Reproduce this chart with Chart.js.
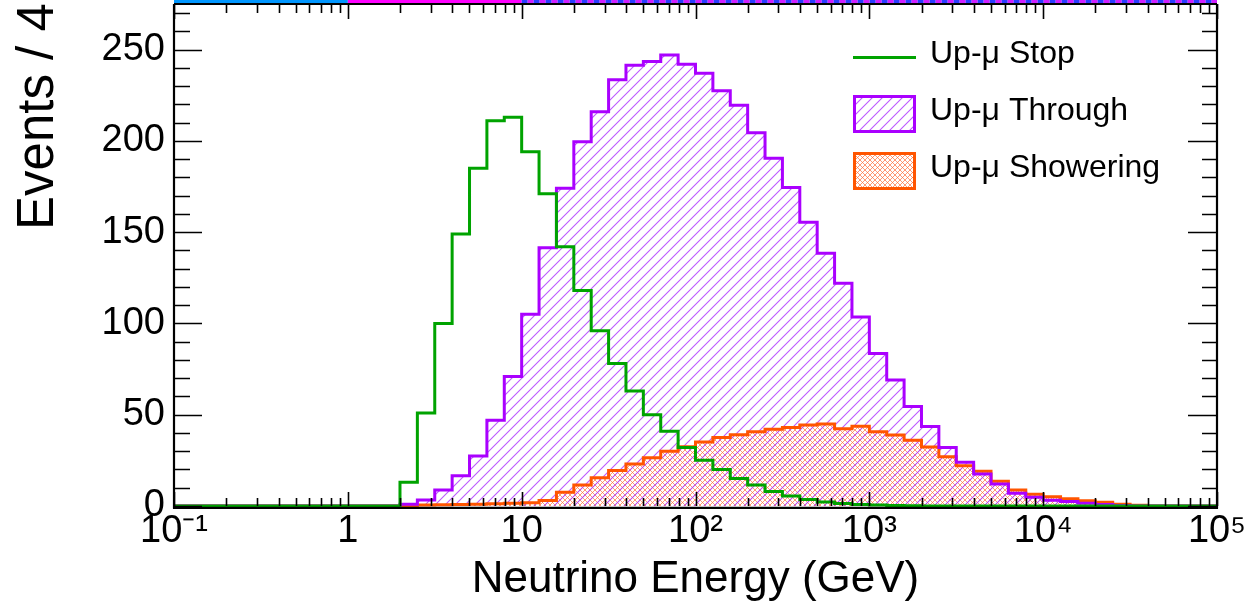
<!DOCTYPE html>
<html>
<head>
<meta charset="utf-8">
<script src="https://cdn.jsdelivr.net/npm/chart.js@4.4.1/dist/chart.umd.min.js"></script>
<style>
html,body{margin:0;padding:0;background:#fff;}
#wrap{width:1248px;height:608px;}
canvas{display:block;}
</style>
</head>
<body>
<div id="wrap"><canvas id="c" width="1248" height="608"></canvas></div>
<script>
// ---------------- data ----------------
const firstDecade = -1;          // histogram starts at 10^-1 GeV
const binsPerDecade = 10;
const nBins = 60;                // 10^-1 ... 10^5
const seriesNames = ['Up-\u03bc Stop', 'Up-\u03bc Through', 'Up-\u03bc Showering'];

const stopValues = [
  0,0,0,0,0,0,0,0,0,0,0,0,0,
  13,51,100,149,185,211,213,194,171,142,118,96,78,63,50,41,32,25,20,15,11.5,8,5.5,3.5,2.2,1.4,0.8,0.5,0.3,0.2,
  0,0,0,0,0,0,0,0,0,0,0,0,0,0,0,0,0
];
const throughValues = [
  0,0,0,0,0,0,0,0,0,0,0,0,0,
  1,3.3,8.8,16.6,27.4,47,71,105,141.5,174,199.5,216,233.5,241.5,243.5,247,242,237,227.5,219.5,204.5,190.5,174.5,155.5,138.5,122,103.5,83.5,69,54.5,43.5,32,24,17.5,12,7,4.8,3.2,2.5,1.5,0.8,0.3,
  0,0,0,0,0
];
const showerValues = [
  0,0,0,0,0,0,0,0,0,0,0,0,0,0,
  0.5,0.7,0.8,1,1.2,1.5,1.8,3,7.5,11.5,15.5,19.5,23,26.5,30,32.5,35,37.5,39,40.7,42,43,44.4,44.9,42.3,43.7,40.7,38.9,36,32.3,27,22,19,13.5,8.8,6.5,5,4,2.9,2,1,0.4,
  0,0,0,0
];

const xTickValues = [0.1, 1, 10, 100, 1000, 10000, 100000];
const xTickLabels = ['10\u207b\u00b9', '1', '10', '10\u00b2', '10\u00b3', '10\u2074', '10\u2075'];
const yMax = 275;
const yStep = 50;
const yMinorStep = 10;
const xTitle = 'Neutrino Energy (GeV)';
const yTitle = 'Events / 4';

// strip of the panel above (cut off in the picture)
const topStripSegments = [
  {from: 0.1, to: 1, colors: ['#0096ff']},
  {from: 1, to: 10, colors: ['#ff00ff']},
  {from: 10, to: 100000, colors: ['#2a3cff', '#d020ff']}
];

// ---------------- styling ----------------
const GREEN = '#00a300';
const PURPLE = '#aa00ff';
const ORANGE = '#ff5500';
const FONT = "'Liberation Sans', Arial, Helvetica, sans-serif";
Chart.defaults.font.family = FONT;
Chart.defaults.color = '#000';

const canvasEl = document.getElementById('c');
const mainCtx = canvasEl.getContext('2d');

function purplePattern() {
  const s = 10;
  const t = document.createElement('canvas');
  t.width = s; t.height = s;
  const g = t.getContext('2d');
  g.strokeStyle = 'rgba(176,60,255,0.85)';
  g.lineWidth = 1.1;
  g.beginPath();
  g.moveTo(-2, s + 2); g.lineTo(s + 2, -2);
  g.moveTo(-2, 2); g.lineTo(2, -2);
  g.moveTo(s - 2, s + 2); g.lineTo(s + 2, s - 2);
  g.stroke();
  return mainCtx.createPattern(t, 'repeat');
}
function orangePattern() {
  const s = 5;
  const t = document.createElement('canvas');
  t.width = s; t.height = s;
  const g = t.getContext('2d');
  g.strokeStyle = 'rgba(255,110,60,0.7)';
  g.lineWidth = 1.0;
  g.beginPath();
  g.moveTo(-1, s + 1); g.lineTo(s + 1, -1);
  g.moveTo(-1, -1); g.lineTo(s + 1, s + 1);
  g.stroke();
  return mainCtx.createPattern(t, 'repeat');
}
const purpleHatch = purplePattern();
const orangeHatch = orangePattern();

function binEdge(k) { return Math.pow(10, firstDecade + k / binsPerDecade); }
function toSteps(values) {
  const pts = values.map((v, k) => ({x: binEdge(k), y: v}));
  pts.push({x: binEdge(values.length), y: values[values.length - 1]});
  return pts;
}

// ---------------- plugins ----------------
const framePlugin = {
  id: 'frame',
  afterDatasetsDraw(chart) {
    const {ctx, chartArea: a, scales: {x, y}} = chart;
    ctx.save();
    ctx.strokeStyle = '#000';
    ctx.lineWidth = 1.6;
    ctx.beginPath();
    for (let v = 0; v <= yMax; v += yMinorStep) {
      const py = Math.round(y.getPixelForValue(v)) + 0.5;
      const major = v % yStep === 0;
      const lenL = major ? 28 : 16;
      const lenR = major ? 29 : 15;
      ctx.moveTo(a.left, py); ctx.lineTo(a.left + lenL, py);
      ctx.moveTo(a.right, py); ctx.lineTo(a.right - lenR, py);
    }
    for (let d = 0; d < xTickValues.length; d++) {
      const dec = xTickValues[d];
      for (let m = 1; m <= 9; m++) {
        if (m > 1 && d === xTickValues.length - 1) break;
        const v = dec * m;
        const px = Math.round(x.getPixelForValue(v)) + 0.5;
        const major = m === 1;
        ctx.moveTo(px, a.bottom); ctx.lineTo(px, a.bottom - (major ? 14 : 8));
        ctx.moveTo(px, a.top); ctx.lineTo(px, a.top + (major ? 15 : 9));
      }
    }
    ctx.stroke();
    ctx.lineWidth = 2.2;
    ctx.beginPath();
    ctx.moveTo(a.left, a.top); ctx.lineTo(a.right, a.top);
    ctx.moveTo(a.right, a.top); ctx.lineTo(a.right, a.bottom + 2.5);
    ctx.moveTo(a.left, a.top); ctx.lineTo(a.left, a.bottom + 2.5);
    ctx.moveTo(a.left - 1, a.bottom + 1.8); ctx.lineTo(a.right + 1, a.bottom + 1.8);
    ctx.stroke();
    ctx.restore();
  }
};

const topStripPlugin = {
  id: 'topStrip',
  afterDraw(chart) {
    const {ctx, chartArea: a, scales: {x}} = chart;
    ctx.save();
    topStripSegments.forEach(seg => {
      const x0 = x.getPixelForValue(seg.from), x1 = x.getPixelForValue(seg.to);
      if (seg.colors.length === 1) {
        ctx.fillStyle = seg.colors[0];
        ctx.fillRect(x0, 0, x1 - x0, a.top - 1);
      } else {
        const dash = 6;
        let i = 0;
        for (let px = x0; px < x1; px += dash, i++) {
          ctx.fillStyle = seg.colors[i % seg.colors.length];
          ctx.fillRect(px, 0, Math.min(dash, x1 - px), a.top - 1);
        }
      }
    });
    ctx.restore();
  }
};

const yTitlePlugin = {
  id: 'yTitle',
  afterDraw(chart) {
    const {ctx} = chart;
    ctx.save();
    ctx.translate(53, 230);
    ctx.rotate(-Math.PI / 2);
    ctx.font = '51px ' + FONT;
    ctx.fillStyle = '#000';
    ctx.textAlign = 'left';
    ctx.textBaseline = 'alphabetic';
    ctx.fillText(yTitle, 0, 0);
    ctx.restore();
  }
};

const legendLayout = {x: 853, w: 63, boxH: 38, textX: 930, rows: [57.5, 114, 171], font: 32};
const legendPlugin = {
  id: 'histLegend',
  afterDraw(chart) {
    const {ctx} = chart;
    const L = legendLayout;
    ctx.save();
    chart.data.datasets.forEach((ds, i) => {
      const cy = L.rows[i];
      if (i === 0) {
        ctx.strokeStyle = ds.borderColor; ctx.lineWidth = 3;
        ctx.beginPath(); ctx.moveTo(L.x, cy); ctx.lineTo(L.x + L.w, cy); ctx.stroke();
      } else {
        const top = cy - L.boxH / 2;
        ctx.fillStyle = ds.backgroundColor;
        ctx.fillRect(L.x, top, L.w, L.boxH);
        ctx.strokeStyle = ds.borderColor; ctx.lineWidth = 3;
        ctx.strokeRect(L.x + 1.5, top + 1.5, L.w - 3, L.boxH - 3);
      }
      ctx.fillStyle = '#000';
      ctx.font = L.font + 'px ' + FONT;
      ctx.textAlign = 'left';
      ctx.textBaseline = 'middle';
      ctx.fillText(ds.label, L.textX, cy - 3);
    });
    ctx.restore();
  }
};

function noPad(s) { s.paddingTop = 0; s.paddingBottom = 0; s.paddingLeft = 0; s.paddingRight = 0; }

// ---------------- chart ----------------
new Chart(canvasEl, {
  type: 'line',
  data: {
    datasets: [
      {label: seriesNames[0], data: toSteps(stopValues), borderColor: GREEN, borderWidth: 3,
       fill: false, stepped: 'before', pointRadius: 0, clip: 4, order: 0},
      {label: seriesNames[1], data: toSteps(throughValues), borderColor: PURPLE, borderWidth: 3,
       backgroundColor: purpleHatch, fill: 'origin', stepped: 'before', pointRadius: 0, clip: 4, order: 1},
      {label: seriesNames[2], data: toSteps(showerValues), borderColor: ORANGE, borderWidth: 3,
       backgroundColor: orangeHatch, fill: 'origin', stepped: 'before', pointRadius: 0, clip: 4, order: 2}
    ]
  },
  options: {
    responsive: false,
    animation: false,
    devicePixelRatio: 1,
    layout: {padding: {top: 4, right: 31, left: 0, bottom: 0}},
    plugins: {
      legend: {display: false},
      tooltip: {enabled: false},
      title: {display: false},
      filler: {drawTime: 'beforeDatasetsDraw'}
    },
    scales: {
      x: {
        type: 'logarithmic',
        min: xTickValues[0],
        max: xTickValues[xTickValues.length - 1],
        afterBuildTicks: s => { s.ticks = xTickValues.map(v => ({value: v})); },
        afterFit: s => { s.height = 102; noPad(s); },
        grid: {display: false, drawTicks: false},
        border: {display: false},
        ticks: {
          autoSkip: false, maxRotation: 0, minRotation: 0, padding: 3,
          color: '#000', font: {size: 38},
          callback: (v) => { const i = xTickValues.indexOf(v); return i >= 0 ? xTickLabels[i] : ''; }
        },
        title: {display: true, text: xTitle, color: '#000', font: {size: 44}, padding: {top: 0, bottom: 2}}
      },
      y: {
        min: 0,
        max: yMax,
        afterFit: s => { s.width = 174; noPad(s); },
        grid: {display: false, drawTicks: false},
        border: {display: false},
        ticks: {stepSize: yStep, includeBounds: false, padding: 9, color: '#000', font: {size: 38}}
      }
    }
  },
  plugins: [framePlugin, topStripPlugin, yTitlePlugin, legendPlugin]
});
</script>
</body>
</html>
